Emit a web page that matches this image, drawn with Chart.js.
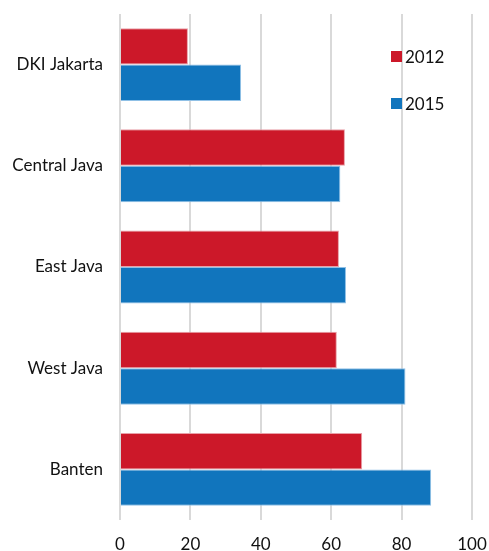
<!DOCTYPE html>
<html>
<head>
<meta charset="utf-8">
<script src="https://cdn.jsdelivr.net/npm/chart.js@4"></script>
<style>
  html, body { margin: 0; padding: 0; background: #fff; }
  #wrap { position: relative; width: 489px; height: 551px; }
  .leg { position: absolute; font: 17px Lato, sans-serif; color: #111; display: flex; align-items: center; }
  .leg span { display: inline-block; width: 11px; height: 11px; margin-right: 3px; }
</style>
</head>
<body>
<div id="wrap">
  <canvas id="myChart" width="489" height="551"></canvas>
  <div class="leg" style="left:391px; top:46px;"><span style="background:#cc1829"></span>2012</div>
  <div class="leg" style="left:391px; top:93px;"><span style="background:#1175bd"></span>2015</div>
</div>
<script>
const regions = ['DKI Jakarta', 'Central Java', 'East Java', 'West Java', 'Banten'];
const values2012 = [19.3, 63.9, 62.2, 61.6, 68.8];
const values2015 = [34.4, 62.6, 64.2, 81.1, 88.4];
const xTicks = [0, 20, 40, 60, 80, 100];

const data = {
    labels: regions,
    datasets: [{
        label: '2012',
        backgroundColor: '#cc1829',
        borderColor: '#e8a0a8',
        borderWidth: 1,
        data: values2012,
    }, {
        label: '2015',
        backgroundColor: '#1175bd',
        borderColor: '#8fc0e6',
        borderWidth: 1,
        data: values2015,
    }]
};

const config = {
    type: 'bar',
    data: data,
    options: {
        indexAxis: 'y',
        responsive: false,
        animation: false,
        layout: { padding: { top: 14, right: 17, left: 0, bottom: 0 } },
        datasets: { bar: { categoryPercentage: 0.72, barPercentage: 1.0 } },
        plugins: { legend: { display: false }, tooltip: { enabled: false } },
        scales: {
            x: {
                min: 0,
                max: 100,
                afterBuildTicks: function(axis) {
                    axis.ticks = xTicks.map(v => ({ value: v }));
                },
                afterFit: function(axis) {
                    axis.height = 31;
                    axis.paddingLeft = 0;
                    axis.paddingRight = 0;
                },
                grid: { color: '#d9d9d9', lineWidth: 2, drawTicks: false },
                border: { display: false },
                ticks: { color: '#111', font: { family: 'Lato', size: 17 }, padding: 14 }
            },
            y: {
                afterFit: function(axis) {
                    axis.width = 120;
                    axis.paddingTop = 0;
                    axis.paddingBottom = 0;
                },
                grid: { display: false, drawTicks: false },
                border: { display: false },
                ticks: { color: '#111', font: { family: 'Lato', size: 17 }, padding: 17 }
            }
        }
    }
};

const myChart = new Chart(
    document.getElementById('myChart'),
    config
);
</script>
</body>
</html>
